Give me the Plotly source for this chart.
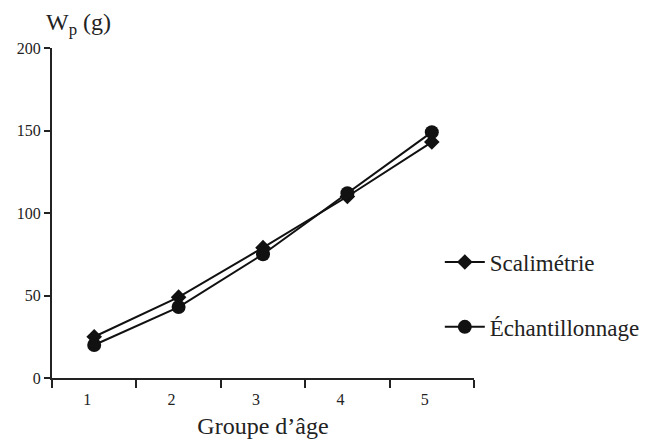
import plotly.graph_objects as go

groups = ["1", "2", "3", "4", "5"]
scalimetrie = [25, 49, 79, 110, 143]
echantillonnage = [20, 43, 75, 112, 149]
y_ticks = [0, 50, 100, 150, 200]

FONT = "Liberation Serif"
INK = "#222"

fig = go.Figure()
fig.add_trace(go.Scatter(
    x=groups, y=scalimetrie, name="Scalimétrie", mode="lines+markers",
    line=dict(color="#111", width=2),
    marker=dict(symbol="diamond", size=12, color="#111"),
    legendgroup="a",
))
fig.add_trace(go.Scatter(
    x=groups, y=echantillonnage, name="Échantillonnage", mode="lines+markers",
    line=dict(color="#111", width=2),
    marker=dict(symbol="circle", size=14, color="#111"),
    legendgroup="b",
))

fig.update_layout(
    width=651, height=439,
    margin=dict(l=44, r=185, t=40, b=69, autoexpand=False),
    paper_bgcolor="white", plot_bgcolor="white",
    font=dict(family=FONT, color=INK, size=16),
    showlegend=True,
    legend=dict(
        x=0.919, y=0.253, xanchor="left", yanchor="middle",
        font=dict(size=23, family=FONT, color=INK),
        tracegroupgap=32, traceorder="grouped",
        bgcolor="rgba(0,0,0,0)", itemwidth=40,
    ),
    xaxis=dict(
        type="category", tickson="boundaries", ticks="outside", ticklen=8,
        tickwidth=2, tickcolor=INK, showline=True, linecolor=INK, linewidth=2,
        showgrid=False, zeroline=False, range=[-0.5, 4.5], automargin=False,
        tickfont=dict(size=16, family=FONT, color=INK), ticklabelshift=-7,
        ticklabelstandoff=6,
        title=dict(text="Groupe d’âge", font=dict(size=24, family=FONT, color=INK), standoff=10),
    ),
    yaxis=dict(
        range=[0, 200], tickvals=y_ticks, ticks="outside", ticklen=6,
        tickwidth=2, tickcolor=INK, showline=True, linecolor=INK, linewidth=2,
        showgrid=False, zeroline=False, automargin=False,
        tickfont=dict(size=16, family=FONT, color=INK),
    ),
    annotations=[dict(
        text="W<sub>p</sub> (g)", xref="paper", yref="paper", x=-0.02, y=1.0,
        xanchor="left", yanchor="bottom", showarrow=False, yshift=7,
        font=dict(size=24, family=FONT, color=INK),
    )],
)

fig.write_html("out.html")
